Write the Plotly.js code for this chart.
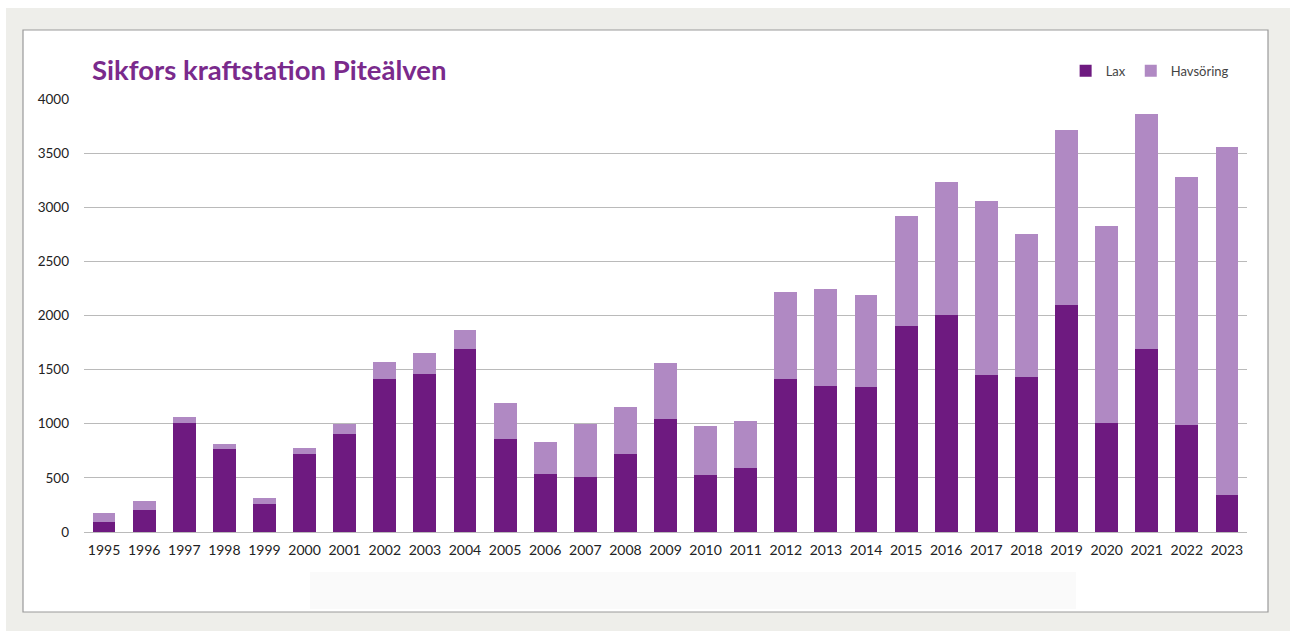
<!DOCTYPE html>
<html>
<head>
<meta charset="utf-8">
<script src="https://cdn.plot.ly/plotly-3.0.1.min.js"></script>
<style>html,body{margin:0;padding:0;background:#fff;}#chart{width:1290px;height:631px;}</style>
</head>
<body>
<div id="chart"></div>
<script>
const years = ["1995","1996","1997","1998","1999","2000","2001","2002","2003","2004","2005","2006","2007","2008","2009","2010","2011","2012","2013","2014","2015","2016","2017","2018","2019","2020","2021","2022","2023"];
const lax = [90,205,1005,770,260,725,905,1415,1460,1695,855,540,510,725,1045,530,595,1415,1350,1335,1905,2005,1450,1430,2095,1005,1690,985,345];
const havsoring = [85,80,60,45,50,50,90,155,195,170,340,295,490,430,515,450,430,805,895,850,1015,1225,1610,1325,1620,1825,2175,2295,3210];
const yTicks = [0,500,1000,1500,2000,2500,3000,3500,4000];

const fontFam = "Lato, 'Open Sans', 'DejaVu Sans', sans-serif";
const traces = [
  {type:'bar', name:'Lax', x:years, y:lax, marker:{color:'#6e1a80'}, hoverinfo:'x+y+name'},
  {type:'bar', name:'Havsöring', x:years, y:havsoring, marker:{color:'#b089c3'}, hoverinfo:'x+y+name'}
];
const pw = 1290-84-43, ph = 631-99-99;
const px = v => (v-84)/pw, py = v => (631-99-v)/ph;
const layout = {
  width:1290, height:631,
  barmode:'stack', bargap:0.43,
  paper_bgcolor:'#ffffff', plot_bgcolor:'rgba(0,0,0,0)',
  margin:{l:84, r:43, t:99, b:99},
  font:{family:fontFam, color:'#333333', size:13},
  title:{text:'<b>Sikfors kraftstation Piteälven</b>', x:0.0713, xanchor:'left', y:0.888, yanchor:'middle', font:{family:fontFam, size:27.5, color:'#7a2a8c'}},
  showlegend:true,
  legend:{orientation:'h', x:0.9885, xanchor:'right', y:1.065, yanchor:'middle', font:{size:13, color:'#444'}, itemwidth:30, bgcolor:'rgba(0,0,0,0)', traceorder:'normal'},
  xaxis:{type:'category', showgrid:false, zeroline:false, showline:false, ticks:'', ticklabelstandoff:8, tickfont:{size:14, color:'#222'}, tickangle:0, fixedrange:true},
  yaxis:{range:[0,4000], tickvals:yTicks, ticktext:yTicks.map(String), showgrid:true, gridcolor:'#bababa', gridwidth:1, zeroline:true, zerolinecolor:'#bababa', zerolinewidth:1, showline:false, ticks:'', ticklabelstandoff:14, tickfont:{size:13.5, color:'#222'}, fixedrange:true},
  shapes:[
    {type:'rect', xref:'paper', yref:'paper', layer:'below', x0:px(6), x1:px(1292), y0:py(633), y1:py(8), fillcolor:'#eeeeea', line:{width:0}},
    {type:'rect', xref:'paper', yref:'paper', layer:'below', x0:px(23), x1:px(1268), y0:py(612), y1:py(30), fillcolor:'#ffffff', line:{color:'#9a9a9a', width:1.2}},
    {type:'rect', xref:'paper', yref:'paper', layer:'below', x0:px(310), x1:px(1076), y0:py(609), y1:py(572), fillcolor:'#fafafa', line:{width:0}}
  ]
};
Plotly.newPlot('chart', traces, layout, {displayModeBar:false, staticPlot:true});
</script>
</body>
</html>
